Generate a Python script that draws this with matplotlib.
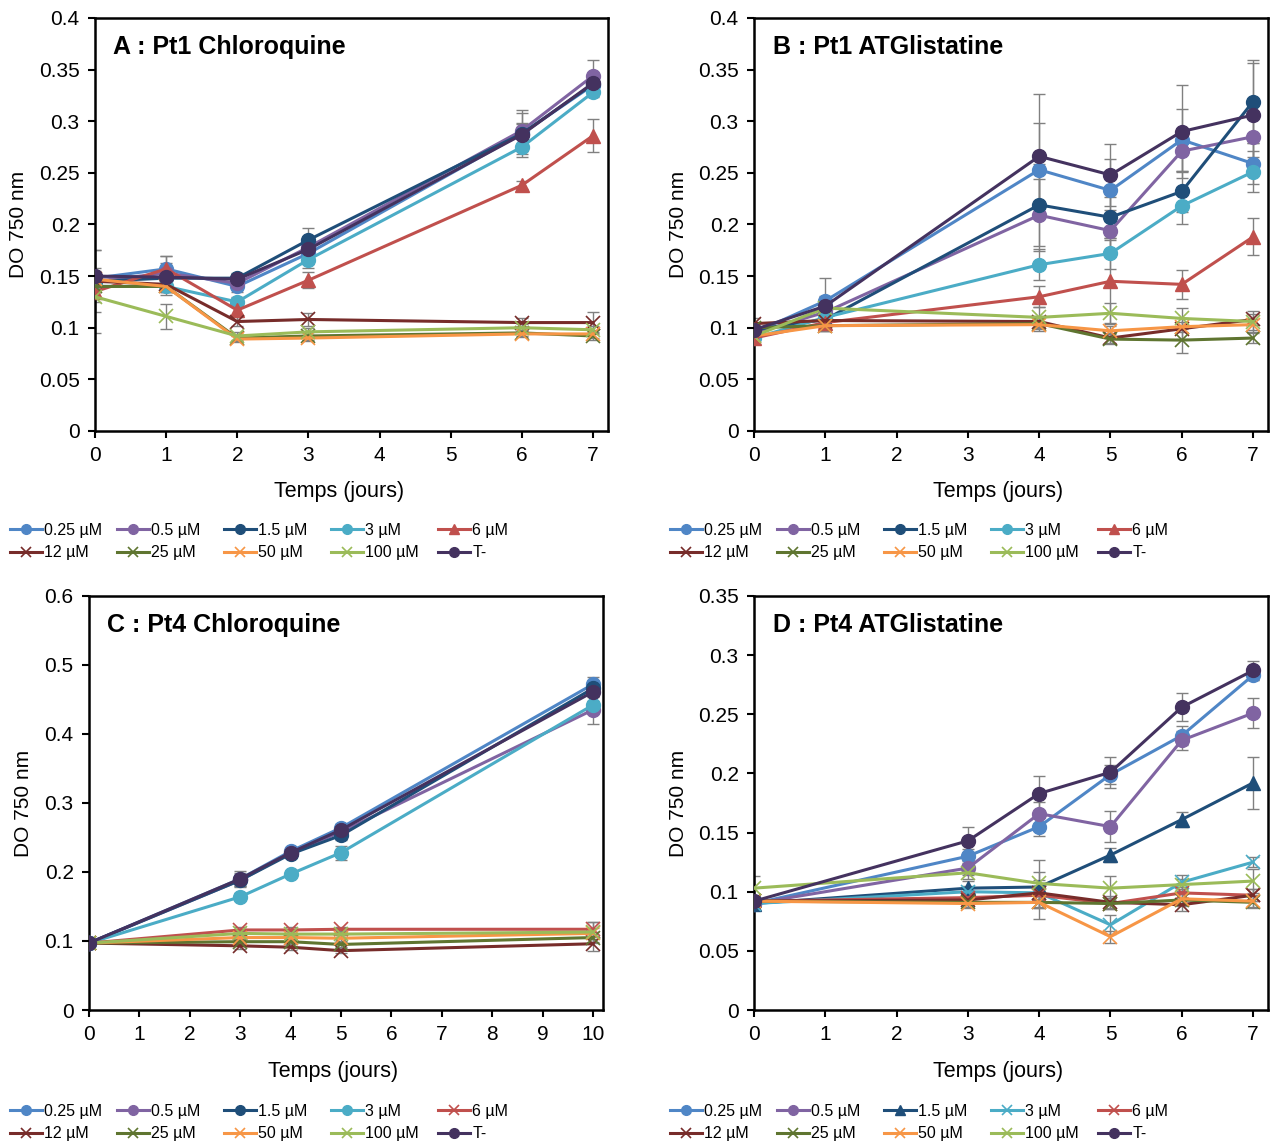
import matplotlib
matplotlib.use('Agg')
import matplotlib.pyplot as plt
from matplotlib.ticker import FuncFormatter, MultipleLocator

plt.rcParams['font.family'] = ['Liberation Sans', 'DejaVu Sans']

labels = ['0.25 µM', '0.5 µM', '1.5 µM', '3 µM', '6 µM',
          '12 µM', '25 µM', '50 µM', '100 µM', 'T-']
colors = ['#4f86c6', '#8064a2', '#1f4e79', '#4bacc6', '#c0504d',
          '#772c2a', '#5f7530', '#f79646', '#9bbb59', '#44325f']

# ---- A : Pt1 Chloroquine
a_days = [0, 1, 2, 3, 6, 7]
a_mean = [
    [0.148, 0.157, 0.140, 0.172, 0.288, 0.335],
    [0.145, 0.153, 0.143, 0.178, 0.291, 0.344],
    [0.145, 0.148, 0.148, 0.185, 0.288, 0.336],
    [0.140, 0.140, 0.125, 0.166, 0.275, 0.328],
    [0.135, 0.157, 0.117, 0.146, 0.238, 0.286],
    [0.145, 0.142, 0.106, 0.108, 0.105, 0.105],
    [0.140, 0.140, 0.090, 0.092, 0.095, 0.092],
    [0.147, 0.140, 0.089, 0.090, 0.094, 0.094],
    [0.130, 0.111, 0.092, 0.096, 0.100, 0.098],
    [0.150, 0.149, 0.147, 0.176, 0.287, 0.337],
]
a_err = [
    [0.010, 0.012, 0.005, 0.010, 0.020, 0.010],
    [0.030, 0.010, 0.005, 0.010, 0.020, 0.015],
    [0.005, 0.005, 0.005, 0.012, 0.010, 0.010],
    [0.005, 0.005, 0.005, 0.008, 0.010, 0.005],
    [0.040, 0.012, 0.005, 0.008, 0.004, 0.016],
    [0.005, 0.010, 0.004, 0.006, 0.004, 0.010],
    [0.005, 0.005, 0.003, 0.004, 0.003, 0.004],
    [0.005, 0.005, 0.003, 0.003, 0.003, 0.004],
    [0.005, 0.012, 0.004, 0.004, 0.004, 0.004],
    [0.005, 0.005, 0.005, 0.010, 0.010, 0.005],
]
a_markers = ['o', 'o', 'o', 'o', '^', 'x', 'x', 'x', 'x', 'o']

# ---- B : Pt1 ATGlistatine
b_days = [0, 1, 4, 5, 6, 7]
b_mean = [
    [0.095, 0.126, 0.253, 0.233, 0.282, 0.259],
    [0.095, 0.115, 0.209, 0.194, 0.271, 0.285],
    [0.098, 0.108, 0.219, 0.207, 0.232, 0.319],
    [0.090, 0.110, 0.161, 0.172, 0.218, 0.251],
    [0.090, 0.105, 0.130, 0.145, 0.142, 0.188],
    [0.104, 0.107, 0.106, 0.090, 0.099, 0.108],
    [0.100, 0.102, 0.104, 0.089, 0.088, 0.090],
    [0.092, 0.102, 0.103, 0.097, 0.101, 0.103],
    [0.092, 0.119, 0.110, 0.114, 0.109, 0.106],
    [0.098, 0.121, 0.266, 0.248, 0.290, 0.306],
]
b_err = [
    [0.005, 0.022, 0.045, 0.030, 0.030, 0.020],
    [0.005, 0.010, 0.035, 0.020, 0.020, 0.020],
    [0.005, 0.010, 0.040, 0.020, 0.020, 0.040],
    [0.005, 0.008, 0.015, 0.015, 0.018, 0.020],
    [0.005, 0.008, 0.010, 0.040, 0.014, 0.018],
    [0.005, 0.005, 0.005, 0.005, 0.010, 0.005],
    [0.005, 0.005, 0.005, 0.005, 0.012, 0.005],
    [0.005, 0.005, 0.006, 0.005, 0.005, 0.005],
    [0.005, 0.005, 0.010, 0.010, 0.010, 0.010],
    [0.005, 0.010, 0.060, 0.030, 0.045, 0.050],
]
b_markers = a_markers

# ---- C : Pt4 Chloroquine
c_days = [0, 3, 4, 5, 10]
c_mean = [
    [0.097, 0.190, 0.230, 0.264, 0.472],
    [0.097, 0.188, 0.228, 0.258, 0.435],
    [0.097, 0.188, 0.226, 0.253, 0.466],
    [0.097, 0.164, 0.197, 0.228, 0.442],
    [0.097, 0.116, 0.116, 0.117, 0.117],
    [0.097, 0.093, 0.091, 0.086, 0.096],
    [0.097, 0.099, 0.099, 0.095, 0.105],
    [0.097, 0.105, 0.105, 0.104, 0.111],
    [0.097, 0.111, 0.110, 0.110, 0.113],
    [0.097, 0.190, 0.228, 0.261, 0.461],
]
c_err = [
    [0.003, 0.008, 0.005, 0.006, 0.010],
    [0.003, 0.008, 0.005, 0.006, 0.020],
    [0.003, 0.008, 0.005, 0.006, 0.008],
    [0.003, 0.005, 0.004, 0.010, 0.006],
    [0.003, 0.004, 0.004, 0.004, 0.010],
    [0.003, 0.004, 0.004, 0.004, 0.010],
    [0.003, 0.004, 0.004, 0.004, 0.008],
    [0.003, 0.004, 0.004, 0.004, 0.008],
    [0.003, 0.004, 0.004, 0.004, 0.015],
    [0.003, 0.012, 0.006, 0.008, 0.008],
]
c_markers = ['o', 'o', 'o', 'o', 'x', 'x', 'x', 'x', 'x', 'o']

# ---- D : Pt4 ATGlistatine
d_days = [0, 3, 4, 5, 6, 7]
d_mean = [
    [0.090, 0.130, 0.155, 0.199, 0.232, 0.283],
    [0.090, 0.120, 0.166, 0.155, 0.228, 0.251],
    [0.090, 0.103, 0.104, 0.131, 0.161, 0.192],
    [0.090, 0.100, 0.099, 0.072, 0.108, 0.125],
    [0.092, 0.095, 0.097, 0.090, 0.099, 0.097],
    [0.092, 0.093, 0.099, 0.091, 0.089, 0.097],
    [0.092, 0.091, 0.091, 0.090, 0.093, 0.091],
    [0.092, 0.090, 0.091, 0.062, 0.094, 0.092],
    [0.103, 0.116, 0.107, 0.103, 0.106, 0.109],
    [0.092, 0.143, 0.183, 0.201, 0.256, 0.287],
]
d_err = [
    [0.004, 0.006, 0.008, 0.008, 0.008, 0.004],
    [0.004, 0.006, 0.010, 0.013, 0.008, 0.013],
    [0.004, 0.006, 0.006, 0.006, 0.006, 0.022],
    [0.004, 0.005, 0.006, 0.008, 0.006, 0.004],
    [0.004, 0.004, 0.020, 0.005, 0.005, 0.005],
    [0.004, 0.004, 0.005, 0.005, 0.005, 0.005],
    [0.004, 0.004, 0.005, 0.005, 0.005, 0.005],
    [0.004, 0.004, 0.005, 0.005, 0.005, 0.005],
    [0.010, 0.005, 0.020, 0.010, 0.005, 0.010],
    [0.004, 0.012, 0.015, 0.013, 0.012, 0.008],
]
d_markers = ['o', 'o', '^', 'x', 'x', 'x', 'x', 'x', 'x', 'o']

# title, days, means, errors, markers, ymax, ystep, xmax, axes rect, legend x, ylabel x
panels = [
    ('A : Pt1 Chloroquine', a_days, a_mean, a_err, a_markers, 0.4, 0.05, 7.21,
     [0.0746, 0.6236, 0.403, 0.3607], 0.0078, -0.131),
    ('B : Pt1 ATGlistatine', b_days, b_mean, b_err, b_markers, 0.4, 0.05, 7.21,
     [0.5923, 0.6236, 0.4038, 0.3607], 0.5263, -0.128),
    ('C : Pt4 Chloroquine', c_days, c_mean, c_err, c_markers, 0.6, 0.1, 10.2,
     [0.0699, 0.1179, 0.4038, 0.3616], 0.0078, -0.109),
    ('D : Pt4 ATGlistatine', d_days, d_mean, d_err, d_markers, 0.35, 0.05, 7.21,
     [0.5923, 0.1179, 0.4038, 0.3616], 0.5263, -0.128),
]

fig = plt.figure(figsize=(12.73, 11.45), dpi=100)

for title, days, means, errs, markers, ymax, ystep, xmax, pos, legx, ylx in panels:
    ax = fig.add_axes(pos)
    handles = []
    for i in range(len(labels)):
        ax.errorbar(days, means[i], yerr=errs[i], fmt='none', ecolor='#808080',
                    elinewidth=1, capsize=4, capthick=1, zorder=2)
        m = markers[i]
        if m == 'x':
            h, = ax.plot(days, means[i], color=colors[i], lw=2.2, marker='x',
                         markersize=10, markeredgewidth=1.2, label=labels[i], zorder=3)
        else:
            h, = ax.plot(days, means[i], color=colors[i], lw=2.2, marker=m,
                         markersize=10, label=labels[i], zorder=3)
        handles.append(h)
    ax.set_xlim(0, xmax)
    ax.set_ylim(0, ymax)
    ax.xaxis.set_major_locator(MultipleLocator(1))
    ax.yaxis.set_major_locator(MultipleLocator(ystep))
    ax.yaxis.set_major_formatter(FuncFormatter(lambda v, p: '%g' % round(v, 3)))
    ax.tick_params(labelsize=15, direction='out', length=5, width=1.5, pad=6)
    for s in ax.spines.values():
        s.set_linewidth(1.8)
    ax.set_xlabel('Temps (jours)', fontsize=15.5)
    ax.set_ylabel('DO 750 nm', fontsize=15)
    ax.xaxis.set_label_coords(0.475, -0.122)
    ax.yaxis.set_label_coords(ylx, 0.5)
    ax.text(0.036, 0.93, title, transform=ax.transAxes, fontsize=18,
            fontweight='bold', va='center', ha='left')
    # legend below the panel: 5 fixed-width columns, 2 rows
    legy = 0.5432 if pos[1] > 0.5 else 0.0358
    for j in range(5):
        fig.legend([handles[j], handles[j + 5]], [labels[j], labels[j + 5]],
                   loc='upper left', bbox_to_anchor=(legx + j * 107 / 1273, legy),
                   frameon=False, fontsize=11.5, handlelength=2.0,
                   handletextpad=0.15, labelspacing=0.45, borderpad=0,
                   borderaxespad=0, markerscale=0.7)

fig.savefig('out.png', dpi=100)
